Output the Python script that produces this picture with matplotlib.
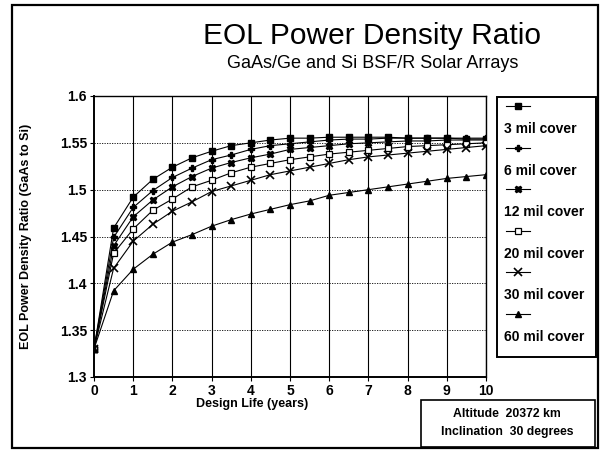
import matplotlib
matplotlib.use("Agg")
from matplotlib import pyplot as plt
from matplotlib.lines import Line2D
from matplotlib.patches import Rectangle
import numpy as np

plt.rcParams['font.family'] = ['Liberation Sans', 'DejaVu Sans']

# design life in years
years = [0, 0.5, 1, 1.5, 2, 2.5, 3, 3.5, 4, 4.5, 5, 5.5, 6, 6.5, 7, 7.5, 8, 8.5, 9, 9.5, 10]

mil3 = [1.33, 1.459, 1.492, 1.511, 1.524, 1.534, 1.541, 1.547, 1.550, 1.553, 1.555, 1.555,
        1.556, 1.556, 1.556, 1.556, 1.555, 1.555, 1.555, 1.554, 1.554]
mil6 = [1.33, 1.449, 1.481, 1.499, 1.513, 1.523, 1.532, 1.537, 1.543, 1.547, 1.549, 1.551,
        1.553, 1.554, 1.554, 1.555, 1.555, 1.555, 1.555, 1.555, 1.555]
mil12 = [1.33, 1.440, 1.471, 1.489, 1.503, 1.514, 1.523, 1.529, 1.534, 1.538, 1.543, 1.545,
         1.547, 1.549, 1.550, 1.551, 1.552, 1.552, 1.553, 1.553, 1.553]
mil20 = [1.33, 1.432, 1.458, 1.478, 1.490, 1.503, 1.510, 1.518, 1.524, 1.528, 1.532, 1.535,
         1.538, 1.540, 1.542, 1.544, 1.546, 1.547, 1.548, 1.549, 1.550]
mil30 = [1.33, 1.416, 1.445, 1.463, 1.477, 1.487, 1.498, 1.504, 1.510, 1.516, 1.520, 1.524,
         1.528, 1.532, 1.535, 1.537, 1.539, 1.541, 1.543, 1.545, 1.547]
mil60 = [1.33, 1.392, 1.415, 1.431, 1.444, 1.452, 1.461, 1.468, 1.474, 1.479, 1.484, 1.488,
         1.494, 1.497, 1.500, 1.503, 1.506, 1.509, 1.512, 1.514, 1.516]

labels = ['3 mil cover', '6 mil cover', '12 mil cover', '20 mil cover', '30 mil cover', '60 mil cover']
series = [mil3, mil6, mil12, mil20, mil30, mil60]
styles = [dict(marker='s', ms=4.2, mfc='black'),
          dict(marker='P', ms=3.8, mfc='black'),
          dict(marker='X', ms=4.5, mfc='black'),
          dict(marker='s', ms=4.6, mfc='white', mew=0.9),
          dict(marker='x', ms=6, mew=1.2),
          dict(marker='^', ms=4.2, mfc='black')]

W, H = 607, 451


def fx(px):
    return px / W


def fy(py):
    return 1 - py / H


fig = plt.figure(figsize=(6.07, 4.51), dpi=100)
ax = fig.add_axes([fx(94), fy(377), fx(486) - fx(94), fy(96) - fy(377)])

for y, lab, st in zip(series, labels, styles):
    ax.plot(years, y, color='black', lw=0.8, mec='black', label=lab, **st, zorder=3)

ax.set_xlim(0, 10)
ax.set_ylim(1.3, 1.6)
ax.set_xticks(range(0, 11))
ax.set_yticks(np.round(np.arange(1.3, 1.601, 0.05), 2))
ax.set_yticklabels(['1.3', '1.35', '1.4', '1.45', '1.5', '1.55', '1.6'])
for x in range(1, 11):
    ax.axvline(x, color='black', lw=0.8, zorder=1)
for y in [1.35, 1.4, 1.45, 1.5, 1.55]:
    ax.axhline(y, color='black', lw=0.6, ls=(0, (1.5, 1.5)), zorder=1)
for s in ax.spines.values():
    s.set_linewidth(1.0)
ax.spines['left'].set_linewidth(1.4)
ax.spines['bottom'].set_linewidth(1.4)
ax.tick_params(direction='out', length=3, width=0.8, pad=2)
for t in ax.get_xticklabels() + ax.get_yticklabels():
    t.set_fontweight('bold')
    t.set_fontsize(10)

fig.text(fx(26), fy(236), 'EOL Power Density Ratio (GaAs to Si)', rotation=90,
         ha='center', va='center', fontsize=9, fontweight='bold')
fig.text(fx(252), fy(404), 'Design Life (years)', ha='center', va='center',
         fontsize=9, fontweight='bold')

fig.text(fx(372), fy(36), 'EOL Power Density Ratio', ha='center', va='center', fontsize=21.5)
fig.text(fx(373), fy(64), 'GaAs/Ge and Si BSF/R Solar Arrays', ha='center', va='center', fontsize=13)

# outer frame
fig.patches.append(Rectangle((fx(12), fy(448)), fx(598) - fx(12), fy(5) - fy(448),
                             transform=fig.transFigure, fill=False, lw=1.6, ec='black'))

# legend box, sample line above each label
fig.patches.append(Rectangle((fx(497), fy(357)), fx(596) - fx(497), fy(97) - fy(357),
                             transform=fig.transFigure, fill=False, lw=1.4, ec='black'))
for i, (lab, st) in enumerate(zip(labels, styles)):
    yl = 106 + i * 41.6
    fig.lines.append(Line2D([fx(506), fx(518), fx(530)], [fy(yl)] * 3,
                            transform=fig.transFigure, color='black', lw=0.8,
                            mec='black', markevery=[1], **st))
    fig.text(fx(504), fy(yl + 23), lab, ha='left', va='center', fontsize=10, fontweight='bold')

# orbit box
fig.patches.append(Rectangle((fx(421), fy(447)), fx(595) - fx(421), fy(400) - fy(447),
                             transform=fig.transFigure, fill=False, lw=1.2, ec='black'))
fig.text(fx(507), fy(414), 'Altitude  20372 km', ha='center', va='center', fontsize=8.8, fontweight='bold')
fig.text(fx(507), fy(432), 'Inclination  30 degrees', ha='center', va='center', fontsize=8.8, fontweight='bold')

fig.savefig('out.png', dpi=100)
